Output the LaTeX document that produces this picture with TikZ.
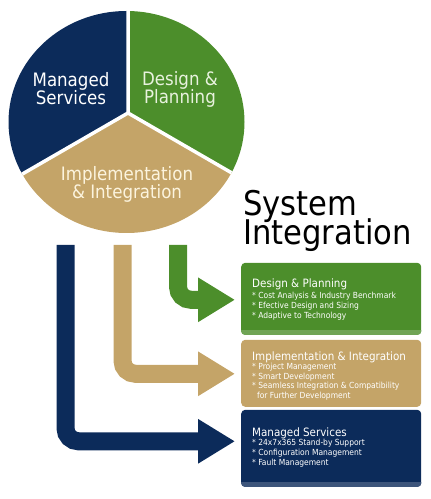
\documentclass[tikz,border=0pt]{standalone}
\usepackage{fontspec}
\setmainfont{DejaVu Sans Condensed}
\usetikzlibrary{arrows.meta}
\definecolor{navyc}{RGB}{12,43,90}
\definecolor{greenc}{RGB}{76,142,43}
\definecolor{tanc}{RGB}{196,164,104}
\definecolor{greentxt}{RGB}{232,242,222}
\definecolor{tantxt}{RGB}{252,244,222}
\newcommand{\mytightlines}{\setlength{\lineskiplimit}{-30pt}\setlength{\lineskip}{0pt}}
\tikzset{
  pietext/.style={align=center,font=\fontsize{18.5}{18}\selectfont,inner sep=0pt},
  boxbody/.style={rounded corners=4pt,inner sep=0pt,anchor=south west},
  boxtitle/.style={anchor=base west,inner sep=0pt,text=white,font=\fontsize{11.5}{12}\selectfont},
  bul/.style={anchor=base west,inner sep=0pt,text=white,font=\fontsize{8.4}{9}\selectfont},
  bigarrow/.style={line width=18pt,rounded corners=13pt,-{Triangle[length=37pt,width=42pt]}},
  headtext/.style={anchor=north west,align=left,inner sep=0pt,font=\fontsize{34}{29.5}\selectfont\mytightlines}
}
\begin{document}
\begin{tikzpicture}[x=1pt,y=1pt]
\useasboundingbox (0,0) rectangle (431,499);
% pie
\coordinate (sp) at (128,386);
\begin{scope}
  \clip (126.5,377) ellipse [x radius=118, y radius=111];
  \fill[navyc] (sp) -- ++(0,400) -- ++(-400,0) -- (-272,155) -- cycle;
  \fill[greenc] (sp) -- ++(0,400) -- ++(400,0) -- (528,155) -- cycle;
  \fill[tanc] (sp) -- (-272,155) -- (-272,-100) -- (528,-100) -- (528,155) -- cycle;
  \draw[white,line width=3.5pt] (sp) -- ++(0,300) (sp) -- (-272,155) (sp) -- (528,155);
\end{scope}
\node[pietext,text=white] (pms) at (71,410) {Managed\\Services};
\node[pietext,text=greentxt] (pdp) at (180,410) {Design \&\\Planning};
\node[pietext,text=tantxt] (pii) at (127,315) {Implementation\\\& Integration};
% heading
\node[headtext] (head) at (243,309) {System\\Integration};
% boxes
\node[boxbody,fill=greenc,minimum width=180pt,minimum height=72pt] (gbox) at (241,164) {};
\node[boxbody,fill=tanc,minimum width=180pt,minimum height=67pt] (tbox) at (241,92) {};
\node[boxbody,fill=navyc,minimum width=180pt,minimum height=77pt] (nbox) at (241,12) {};
\fill[greenc!80!white,rounded corners=4pt] (gbox.south west) rectangle ([yshift=8pt]gbox.south east);
\fill[greenc] ([yshift=5pt]gbox.south west) rectangle ([yshift=9pt]gbox.south east);
\fill[navyc!80!white,rounded corners=4pt] (nbox.south west) rectangle ([yshift=8pt]nbox.south east);
\fill[navyc] ([yshift=5pt]nbox.south west) rectangle ([yshift=9pt]nbox.south east);
% box texts
\node[boxtitle] (gt) at (252,211) {Design \& Planning};
\node[bul] (g1) at (252,200.5) {* Cost Analysis \& Industry Benchmark};
\node[bul] (g2) at (252,190.5) {* Efective Design and Sizing};
\node[bul] (g3) at (252,180.5) {* Adaptive to Technology};
\node[boxtitle] (tt) at (252,138) {Implementation \& Integration};
\node[bul] (t1) at (252,129) {* Project Management};
\node[bul] (t2) at (252,119.5) {* Smart Development};
\node[bul] (t3) at (252,110) {* Seamless Integration \& Compatibility};
\node[bul] (t4) at (257,100.5) {for Further Development};
\node[boxtitle] (nt) at (252,63) {Managed Services};
\node[bul] (n1) at (252,53) {* 24x7x365 Stand-by Support};
\node[bul] (n2) at (252,43) {* Configuration Management};
\node[bul] (n3) at (252,33) {* Fault Management};
% arrows
\coordinate (ga) at (178,254);
\coordinate (ta) at (122.5,254);
\coordinate (na) at (65.5,254);
\draw[bigarrow,greenc] (ga) |- ([shift={(-6pt,-1pt)}]gbox.west);
\draw[bigarrow,tanc] (ta) |- ([shift={(-6pt,-0.5pt)}]tbox.west);
\draw[bigarrow,navyc] (na) |- ([shift={(-6pt,7pt)}]nbox.west);
\end{tikzpicture}
\end{document}
